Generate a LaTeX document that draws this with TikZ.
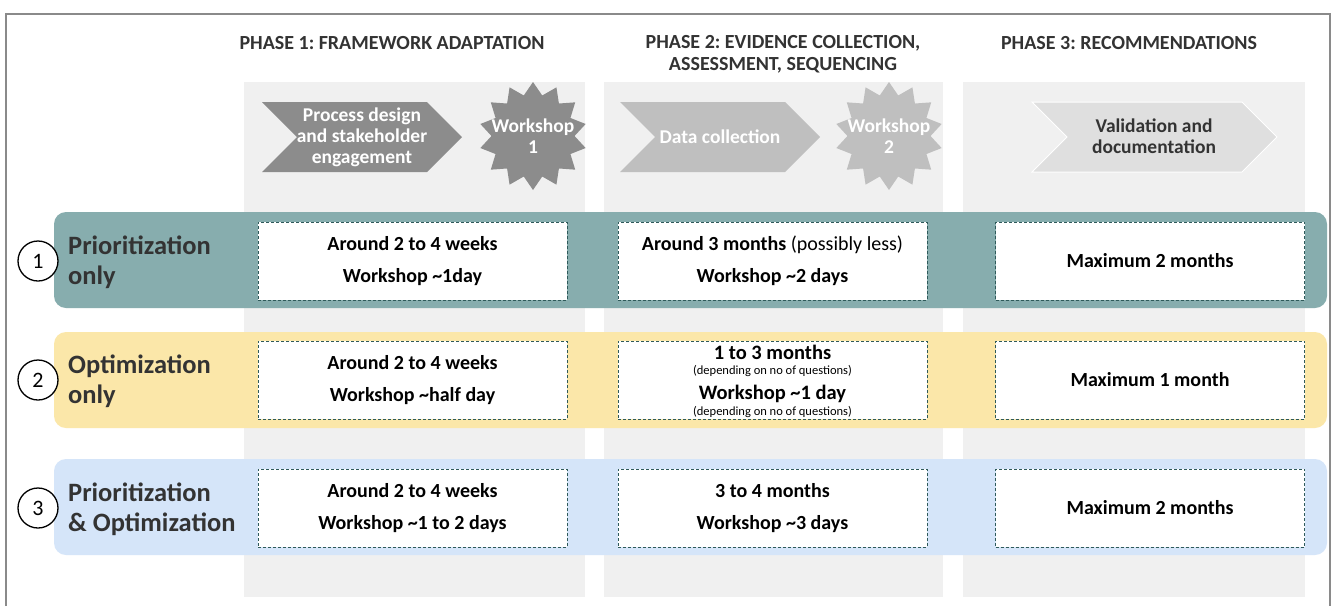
\documentclass[tikz,border=0pt]{standalone}
\usepackage{fontspec}
\setmainfont{Carlito}
\frenchspacing
\usetikzlibrary{shapes.geometric}
\definecolor{colgray}{HTML}{F0F0F0}
\definecolor{framegray}{HTML}{8A8A8A}
\definecolor{darkchev}{HTML}{8C8C8C}
\definecolor{midchev}{HTML}{BFBFBF}
\definecolor{lightchev}{HTML}{DFDFDF}
\definecolor{bandone}{HTML}{87ADAE}
\definecolor{bandtwo}{HTML}{FBE7A9}
\definecolor{bandthree}{HTML}{D5E5F9}
\definecolor{dashcol}{HTML}{2F5A5A}
\definecolor{labcol}{HTML}{333333}
\tikzset{
  heading/.style={font=\bfseries\fontsize{20}{22}\selectfont, text=labcol, align=center},
  band/.style={rectangle, rounded corners=12pt, minimum width=1273pt, minimum height=96pt, inner sep=0pt},
  rowlabel/.style={anchor=west, align=left, text=labcol, font=\bfseries\fontsize{26.5}{30}\selectfont, inner sep=0pt},
  numcirc/.style={circle, draw=black, line width=1.3pt, fill=white, minimum size=40pt, inner sep=0pt, font=\fontsize{22}{22}\selectfont},
  durbox/.style={rectangle, draw=dashcol, dash pattern=on 3pt off 2pt, line width=0.9pt, fill=white, minimum width=309pt, minimum height=78pt, align=center, font=\bfseries\fontsize{20}{32}\selectfont},
  chevtext/.style={align=center, font=\bfseries\fontsize{19.5}{21}\selectfont},
  starshape/.style={star, star points=14, star point ratio=1.3, minimum size=108pt, inner sep=0pt},
  startext/.style={align=center, text=white, font=\bfseries\fontsize{19.5}{21}\selectfont},
  notetext/.style={align=center, inner sep=0pt, font=\bfseries\fontsize{20.5}{15}\selectfont},
}
\newcommand{\smallnote}[1]{{\normalfont\fontsize{12.5}{13}\selectfont #1}}
\begin{document}
\begin{tikzpicture}[x=1pt,y=-1pt]
\useasboundingbox (0,0) rectangle (1334,606);
\fill[white] (0,0) rectangle (1334,606);
\draw[framegray, line width=1.5pt] (6,606) -- (6,14) -- (1330,14) -- (1330,606);
% columns
\fill[colgray] (244,82) rectangle (585,597);
\fill[colgray] (604,82) rectangle (943,597);
\fill[colgray] (963,82) rectangle (1305,597);
% headings
\node[heading] (h1) at (392,43) {PHASE 1: FRAMEWORK ADAPTATION};
\node[heading] (h2) at (783,54) {PHASE 2: EVIDENCE COLLECTION,\\ASSESSMENT, SEQUENCING};
\node[heading] (h3) at (1129,43) {PHASE 3: RECOMMENDATIONS};
% chevrons
\fill[darkchev] (262,102) -- (427,102) -- (462,137) -- (427,172) -- (262,172) -- (297,137) -- cycle;
\node[chevtext, text=white] (c1) at (362,137) {Process design\\and stakeholder\\engagement};
\fill[midchev] (620,102) -- (785,102) -- (820,137) -- (785,172) -- (620,172) -- (655,137) -- cycle;
\node[chevtext, text=white] (c2) at (720,137) {Data collection};
\fill[lightchev, draw=white, line width=1pt] (1032,102) -- (1242,102) -- (1277,137) -- (1242,172) -- (1032,172) -- (1067,137) -- cycle;
\node[chevtext, text=labcol] (c3) at (1154,136) {Validation and\\documentation};
% stars
\node[starshape, fill=darkchev] (s1) at (533,136) {};
\node[startext] (t1) at (s1.center) {Workshop\\1};
\node[starshape, fill=midchev] (s2) at (889,136) {};
\node[startext] (t2) at (s2.center) {Workshop\\2};
% bands
\node[band, fill=bandone] (b1) at (690.5,260) {};
\node[band, fill=bandtwo] (b2) at (690.5,380) {};
\node[band, fill=bandthree] (b3) at (690.5,507) {};
% circles
\node[numcirc] (n1) at (38,261) {1};
\node[numcirc] (n2) at (38,380) {2};
\node[numcirc] (n3) at (38,508) {3};
% row labels
\node[rowlabel] (l1) at (68,262) {Prioritization\\only};
\node[rowlabel] (l2) at (68,381) {Optimization\\only};
\node[rowlabel] (l3) at (68,509) {Prioritization\\\& Optimization};
% boxes row 1
\node[durbox] (r1a) at (412.5,261) {Around 2 to 4 weeks\\Workshop \textasciitilde1day};
\node[durbox] (r1b) at (772.5,261) {Around 3 months {\normalfont(possibly less)}\\Workshop \textasciitilde2 days};
\node[durbox] (r1c) at (1150,261) {Maximum 2 months};
% boxes row 2
\node[durbox] (r2a) at (412.5,380) {Around 2 to 4 weeks\\Workshop \textasciitilde half day};
\node[durbox] (r2b) at (772.5,380) {};
\node[notetext] (r2bt) at (772.5,381.5) {1 to 3 months\\[0pt]\smallnote{(depending on no of questions)}\\[8pt]Workshop \textasciitilde1 day\\[1pt]\smallnote{(depending on no of questions)}};
\node[durbox] (r2c) at (1150,380) {Maximum 1 month};
% boxes row 3
\node[durbox] (r3a) at (412.5,508) {Around 2 to 4 weeks\\Workshop \textasciitilde1 to 2 days};
\node[durbox] (r3b) at (772.5,508) {3 to 4 months\\Workshop \textasciitilde3 days};
\node[durbox] (r3c) at (1150,508) {Maximum 2 months};
\end{tikzpicture}
\end{document}
